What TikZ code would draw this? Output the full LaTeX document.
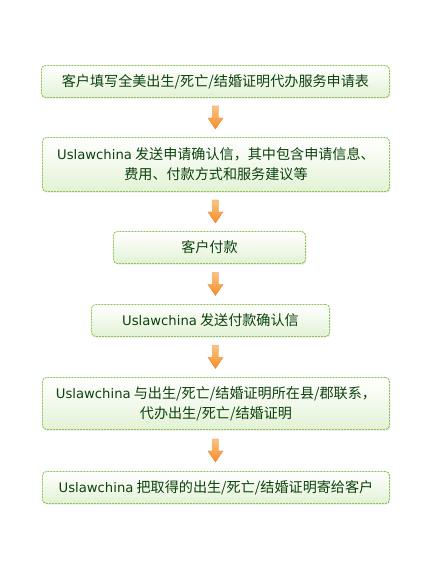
\documentclass[tikz,border=0pt]{standalone}
\usepackage{fontspec}
\newfontfamily\cjk{Noto Sans CJK SC}
\newfontfamily\lat{DejaVu Sans}
\newcommand\usl{{\lat\fontsize{13.2}{20}\selectfont Uslawchina}}
\usetikzlibrary{shadows,calc}
\definecolor{txtgreen}{RGB}{12,66,12}
\definecolor{bordgreen}{RGB}{140,198,80}
\definecolor{fillgreen}{RGB}{226,242,212}
\definecolor{orangeA}{RGB}{252,196,130}
\definecolor{orangeB}{RGB}{246,140,40}
\definecolor{orangeE}{RGB}{235,130,40}
\begin{document}
\begin{tikzpicture}[x=1pt,y=-1pt,
  stepbox/.style={draw=bordgreen, line width=0.9pt, dash pattern=on 2pt off 1pt,
    rounded corners=4pt, top color=white, bottom color=fillgreen, middle color=fillgreen!45,
    drop shadow={shadow xshift=1pt, shadow yshift=-1.2pt, opacity=0.18},
    text=txtgreen, font=\cjk\fontsize{14.1}{20}\selectfont, align=center,
    inner sep=0pt, anchor=north west},
  flowarrow/.style={top color=orangeA, bottom color=orangeB, draw=orangeE, line width=0.4pt}
]
\useasboundingbox (0,0) rectangle (447,562);
\node[stepbox, minimum width=348pt, minimum height=32pt] (b1) at (41,65) {客户填写全美出生/死亡/结婚证明代办服务申请表};
\node[stepbox, minimum width=347pt, minimum height=54pt] (b2) at (42,137) {\usl\ 发送申请确认信，其中包含申请信息、\\费用、付款方式和服务建议等};
\node[stepbox, minimum width=192pt, minimum height=32pt] (b3) at (113,231) {客户付款};
\node[stepbox, minimum width=238pt, minimum height=32pt] (b4) at (91,304) {\usl\ 发送付款确认信};
\node[stepbox, minimum width=347pt, minimum height=52pt] (b5) at (42,377) {\usl\ 与出生/死亡/结婚证明所在县/郡联系，\\代办出生/死亡/结婚证明};
\node[stepbox, minimum width=347pt, minimum height=32pt] (b6) at (42,471) {\usl\ 把取得的出生/死亡/结婚证明寄给客户};
\foreach \a/\b in {b1/b2, b2/b3, b3/b4, b4/b5, b5/b6}{
  \coordinate (m) at ($(\a.south)!0.5!(\b.north)$);
  \coordinate (am) at (b1.center |- m);
  \path[flowarrow] (am) ++(-3,-11.5) -- ++(6,0) -- ++(0,12) -- ++(4.5,0) -- ++(-7.5,11) -- ++(-7.5,-11) -- ++(4.5,0) -- cycle;
}
\end{tikzpicture}
\end{document}
